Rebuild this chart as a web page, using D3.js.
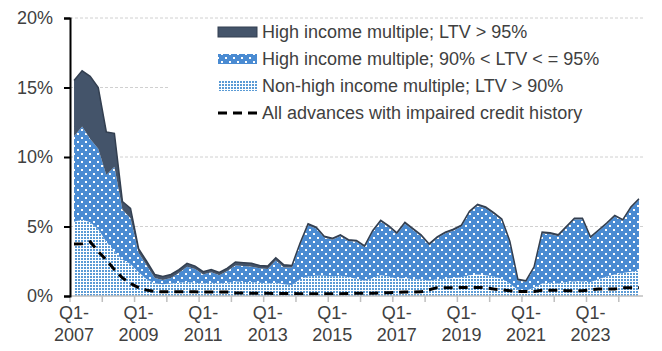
<!DOCTYPE html>
<html>
<head>
<meta charset="utf-8">
<script src="https://cdn.jsdelivr.net/npm/d3@7"></script>
<style>
  body { margin: 0; background: #fff; }
  svg text { font-family: "Liberation Sans", Arial, sans-serif; fill: #404040; }
</style>
</head>
<body>
<div id="chart"></div>
<script>
// quarters Q1-2007 .. Q3-2024
const years = d3.range(2007, 2025);
const quarters = [];
years.forEach(y => [1, 2, 3, 4].forEach(q => quarters.push("Q" + q + "-" + y)));
quarters.splice(71);

// non-high income multiple; LTV > 90%
const nonHighLtv90 = [
  5.35, 5.5, 5.3, 4.8, 3.9, 3.2, 2.6, 2.3, 1.7, 1.2, 0.9, 0.85,
  0.9, 0.95, 1.0, 0.95, 0.9, 0.95, 0.9, 0.95, 1.05, 1.0, 1.0, 0.95,
  0.9, 0.95, 0.85, 0.8, 1.2, 1.4, 1.45, 1.45, 1.4, 1.45, 1.35, 1.25,
  1.1, 1.3, 1.5, 1.4, 1.25, 1.3, 1.2, 1.2, 1.1, 1.2, 1.25, 1.3,
  1.35, 1.5, 1.55, 1.5, 1.4, 1.25, 0.9, 0.45, 0.4, 0.6, 0.9, 0.95,
  0.9, 1.0, 1.05, 1.05, 1.0, 1.2, 1.4, 1.55, 1.65, 1.75, 1.85
];
// high income multiple; 90% < LTV <= 95%
const highLtv90to95 = [
  6.15, 6.7, 6.0, 5.8, 4.8, 6.1, 3.6, 3.3, 1.4, 1.0, 0.4, 0.3,
  0.4, 0.7, 1.1, 1.0, 0.65, 0.75, 0.6, 0.85, 1.15, 1.15, 1.1, 1.05,
  1.05, 1.6, 1.2, 1.25, 2.48, 3.68, 3.4, 2.75, 2.65, 2.85, 2.6, 2.65,
  2.4, 3.3, 3.85, 3.55, 3.2, 3.9, 3.55, 3.1, 2.55, 2.95, 3.25, 3.4,
  3.65, 4.5, 4.95, 4.8, 4.5, 4.2, 2.95, 0.67, 0.62, 1.42, 3.6, 3.5,
  3.4, 3.9, 4.45, 4.45, 3.17, 3.47, 3.77, 4.17, 3.77, 4.57, 5.07
];
// high income multiple; LTV > 95%
const highLtv95 = [
  4.0, 4.0, 4.5, 4.4, 3.1, 2.4, 0.6, 0.7, 0.3, 0.3, 0.25, 0.25,
  0.25, 0.25, 0.25, 0.2, 0.2, 0.2, 0.2, 0.2, 0.25, 0.25, 0.25, 0.2,
  0.2, 0.2, 0.2, 0.15, 0.12, 0.12, 0.1, 0.1, 0.1, 0.1, 0.1, 0.1,
  0.1, 0.1, 0.1, 0.1, 0.1, 0.1, 0.1, 0.1, 0.1, 0.1, 0.1, 0.1,
  0.1, 0.1, 0.1, 0.1, 0.1, 0.1, 0.1, 0.08, 0.08, 0.08, 0.1, 0.1,
  0.1, 0.1, 0.1, 0.1, 0.08, 0.08, 0.08, 0.08, 0.08, 0.08, 0.08
];
// all advances with impaired credit history
const impaired = [
  3.74, 3.75, 3.9, 3.2, 2.6, 1.9, 1.3, 0.9, 0.6, 0.42, 0.32, 0.3,
  0.3, 0.3, 0.3, 0.3, 0.28, 0.28, 0.28, 0.28, 0.22, 0.22, 0.2, 0.2,
  0.2, 0.18, 0.18, 0.18, 0.16, 0.16, 0.16, 0.16, 0.16, 0.16, 0.18, 0.2,
  0.2, 0.2, 0.22, 0.24, 0.26, 0.28, 0.28, 0.3, 0.45, 0.6, 0.6, 0.6,
  0.62, 0.62, 0.62, 0.6, 0.5, 0.45, 0.38, 0.33, 0.33, 0.33, 0.42, 0.42,
  0.42, 0.38, 0.38, 0.38, 0.45, 0.5, 0.5, 0.5, 0.6, 0.6, 0.6
];
const yTicks = [0, 5, 10, 15, 20];
const legendLabels = [
  "High income multiple; LTV > 95%",
  "High income multiple; 90% < LTV < = 95%",
  "Non-high income multiple; LTV > 90%",
  "All advances with impaired credit history"
];

const width = 662, height = 351;
const margin = {top: 18, right: 19, bottom: 55, left: 70};
const colors = {dark: "#44546a", darkLine: "#333f50", blue: "#4a8bd2", dot: "#5b9bd5"};

const svg = d3.select("#chart").append("svg")
  .attr("width", width)
  .attr("height", height);

// fill patterns
const defs = svg.append("defs");
const pBlue = defs.append("pattern").attr("id", "blueDots")
  .attr("width", 8).attr("height", 8).attr("patternUnits", "userSpaceOnUse");
pBlue.append("rect").attr("width", 8).attr("height", 8).attr("fill", colors.blue);
pBlue.append("rect").attr("x", 1).attr("y", 1).attr("width", 2).attr("height", 2).attr("fill", "#fff");
pBlue.append("rect").attr("x", 5).attr("y", 5).attr("width", 2).attr("height", 2).attr("fill", "#fff");

const pLight = defs.append("pattern").attr("id", "lightDots")
  .attr("width", 3).attr("height", 3).attr("patternUnits", "userSpaceOnUse");
pLight.append("rect").attr("width", 3).attr("height", 3).attr("fill", "#fff");
pLight.append("rect").attr("x", 0).attr("y", 0).attr("width", 2).attr("height", 2).attr("fill", colors.dot);

const x = d3.scaleBand()
  .domain(quarters)
  .range([margin.left, width - margin.right]);
const xc = q => x(q) + x.bandwidth() / 2;

const y = d3.scaleLinear()
  .domain([0, 20])
  .range([height - margin.bottom, margin.top]);

// gridlines
svg.append("g").selectAll("line")
  .data(yTicks.filter(d => d > 0))
  .join("line")
  .attr("x1", margin.left).attr("x2", width - margin.right)
  .attr("y1", d => y(d)).attr("y2", d => y(d))
  .attr("stroke", "#d0d0d0")
  .attr("stroke-dasharray", "3,2");

// stacked areas
const table = quarters.map((q, i) => ({
  q: q, nonHigh: nonHighLtv90[i], mid: highLtv90to95[i], high: highLtv95[i]
}));
const keys = ["nonHigh", "mid", "high"];
const fills = {nonHigh: "url(#lightDots)", mid: "url(#blueDots)", high: colors.dark};
const series = d3.stack().keys(keys)(table);

const area = d3.area()
  .x(d => xc(d.data.q))
  .y0(d => y(d[0]))
  .y1(d => y(d[1]));

svg.append("g").selectAll("path")
  .data(series)
  .join("path")
  .attr("d", area)
  .attr("fill", d => fills[d.key]);

// outline on top of the stack
svg.append("path")
  .datum(series[2])
  .attr("fill", "none")
  .attr("stroke", colors.darkLine)
  .attr("stroke-width", 1.5)
  .attr("d", d3.line().x(d => xc(d.data.q)).y(d => y(d[1])));

// impaired credit line
svg.append("path")
  .datum(impaired)
  .attr("fill", "none")
  .attr("stroke", "#000")
  .attr("stroke-width", 3)
  .attr("stroke-dasharray", "9,6")
  .attr("d", d3.line().x((d, i) => xc(quarters[i])).y(d => y(d)));

// x axis
const xAxis = svg.append("g");
xAxis.append("line")
  .attr("x1", margin.left).attr("x2", width - margin.right)
  .attr("y1", y(0)).attr("y2", y(0))
  .attr("stroke", "#bfbfbf").attr("stroke-width", 1.5);
xAxis.selectAll(".tick")
  .data(quarters.filter(q => q.startsWith("Q1")))
  .join("line")
  .attr("x1", q => x(q)).attr("x2", q => x(q))
  .attr("y1", y(0)).attr("y2", y(0) + 6)
  .attr("stroke", "#bfbfbf").attr("stroke-width", 1.5);

const labelQ = quarters.filter(q => q.startsWith("Q1") && (+q.slice(3) - 2007) % 2 === 0);
const lbl = xAxis.selectAll(".lbl")
  .data(labelQ)
  .join("text")
  .attr("text-anchor", "middle")
  .style("font-size", "18px");
lbl.append("tspan").attr("x", q => xc(q)).attr("y", 319).text("Q1-");
lbl.append("tspan").attr("x", q => xc(q)).attr("y", 341).text(q => q.slice(3));

// y axis
const yAxis = svg.append("g")
  .attr("transform", `translate(${margin.left},0)`)
  .call(d3.axisLeft(y).tickValues(yTicks).tickFormat(d => d + "%").tickSize(6).tickPadding(11));
yAxis.select(".domain").attr("stroke", "#000").attr("stroke-width", 2);
yAxis.selectAll(".tick line").attr("stroke", "#000").attr("stroke-width", 2);
yAxis.selectAll(".tick text")
  .style("font-size", "18px")
  .style("font-family", "Liberation Sans, Arial, sans-serif")
  .attr("fill", "#404040");

// legend
const legend = svg.append("g");
legend.append("rect")
  .attr("x", 168).attr("y", 22).attr("width", 475).attr("height", 118)
  .attr("fill", "#fff");
const legY = [32, 59, 86, 113];
const swFill = [colors.dark, "url(#blueDots)", "url(#lightDots)"];
swFill.forEach((f, i) => {
  legend.append("rect")
    .attr("x", 218).attr("y", legY[i] - 5).attr("width", 39).attr("height", 10)
    .attr("fill", f)
    .attr("stroke", i === 0 ? colors.darkLine : "none");
});
legend.append("line")
  .attr("x1", 218).attr("x2", 257).attr("y1", legY[3]).attr("y2", legY[3])
  .attr("stroke", "#000").attr("stroke-width", 3).attr("stroke-dasharray", "9,6");
legend.selectAll(".lt")
  .data(legendLabels)
  .join("text")
  .attr("x", 262)
  .attr("y", (d, i) => legY[i])
  .attr("dy", "0.35em")
  .style("font-size", "18px")
  .text(d => d);
</script>
</body>
</html>
